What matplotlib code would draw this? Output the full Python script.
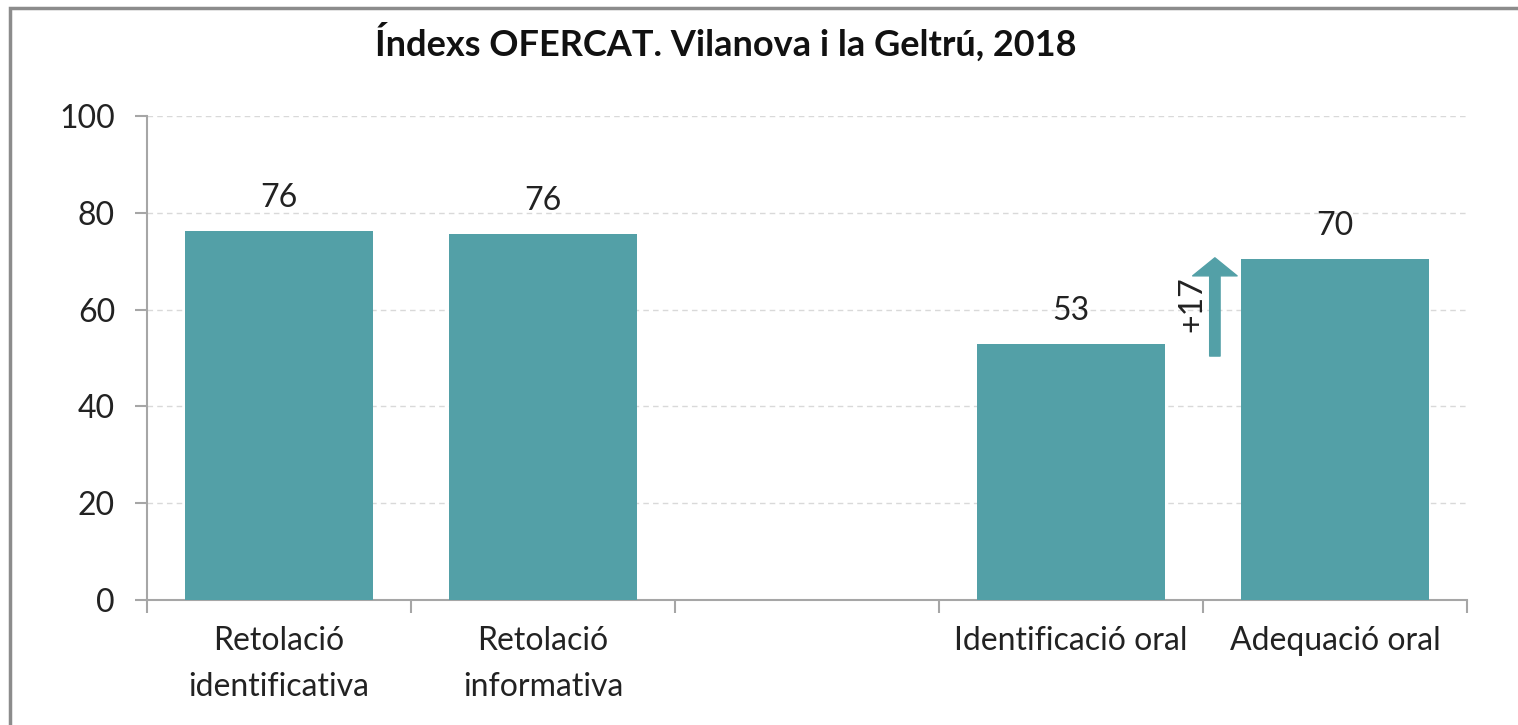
import matplotlib
matplotlib.use('Agg')
import matplotlib.pyplot as plt
from matplotlib.patches import Rectangle

plt.rcParams['font.family'] = ['Lato', 'DejaVu Sans']

categories = ['Retolació\nidentificativa', 'Retolació\ninformativa', '', 'Identificació oral', 'Adequació oral']
positions = [0, 1, 3, 4]
values = [76.2, 75.6, 52.8, 70.4]
arrow_from = 50.4
arrow_to = 70.7
arrow_label = '+17'

bar_color = '#53A0A7'
axis_color = '#A6A6A6'
fs = 23

fig = plt.figure(figsize=(15.18, 7.25), dpi=100)
ax = fig.add_axes([147/1518, 1 - 600/725, (1467 - 147)/1518, (600 - 116)/725])

ax.bar(positions, values, width=0.71, color=bar_color, zorder=3)
for p, v in zip(positions, values):
    ax.annotate(str(int(round(v))), (p, v), xytext=(0, 13), textcoords='offset points',
                ha='center', va='bottom', fontsize=fs, color='#222222')

ax.set_xlim(-0.5, 4.5)
ax.set_ylim(0, 100)
ax.set_yticks([0, 20, 40, 60, 80, 100])
ax.yaxis.grid(True, linestyle=(0, (4, 3)), color='#D9D9D9', linewidth=1)
ax.set_axisbelow(True)

# category labels centred, ticks on the category boundaries
ax.set_xticks(range(len(categories)))
ax.set_xticklabels(categories, fontsize=fs, color='#222222', linespacing=1.64)
ax.tick_params(axis='x', length=0, pad=19)
ax.set_xticks([i - 0.5 for i in range(len(categories) + 1)], minor=True)
ax.tick_params(axis='x', which='minor', length=9, color=axis_color, width=1.5)
ax.tick_params(axis='y', length=9, color=axis_color, width=1.5, labelsize=fs,
               labelcolor='#222222', pad=14)

for s in ['top', 'right']:
    ax.spines[s].set_visible(False)
for s in ['left', 'bottom']:
    ax.spines[s].set_color(axis_color)
    ax.spines[s].set_linewidth(1.5)

# arrow showing the gap between the two oral indices
ax.annotate('', xy=(3.545, arrow_to), xytext=(3.545, arrow_from),
            arrowprops=dict(arrowstyle='simple,head_width=3.2,head_length=1.3,tail_width=0.75',
                            mutation_scale=10, color=bar_color, shrinkA=0, shrinkB=0))
ax.text(3.46, (arrow_from + arrow_to) / 2 + 0.5, arrow_label, rotation=90, ha='center', va='center',
        fontsize=fs, color='#222222')

fig.text(726/1518, 1 - 42/725, 'Índexs OFERCAT. Vilanova i la Geltrú, 2018', ha='center', va='center',
         fontsize=26, fontweight='bold', color='#111111')

fig.patches.append(Rectangle((10/1518, -0.2), 1.2, 1.2 - 8/725, transform=fig.transFigure,
                             fill=False, edgecolor='#8C8C8C', linewidth=2.5))

fig.savefig('out.png', dpi=100)
